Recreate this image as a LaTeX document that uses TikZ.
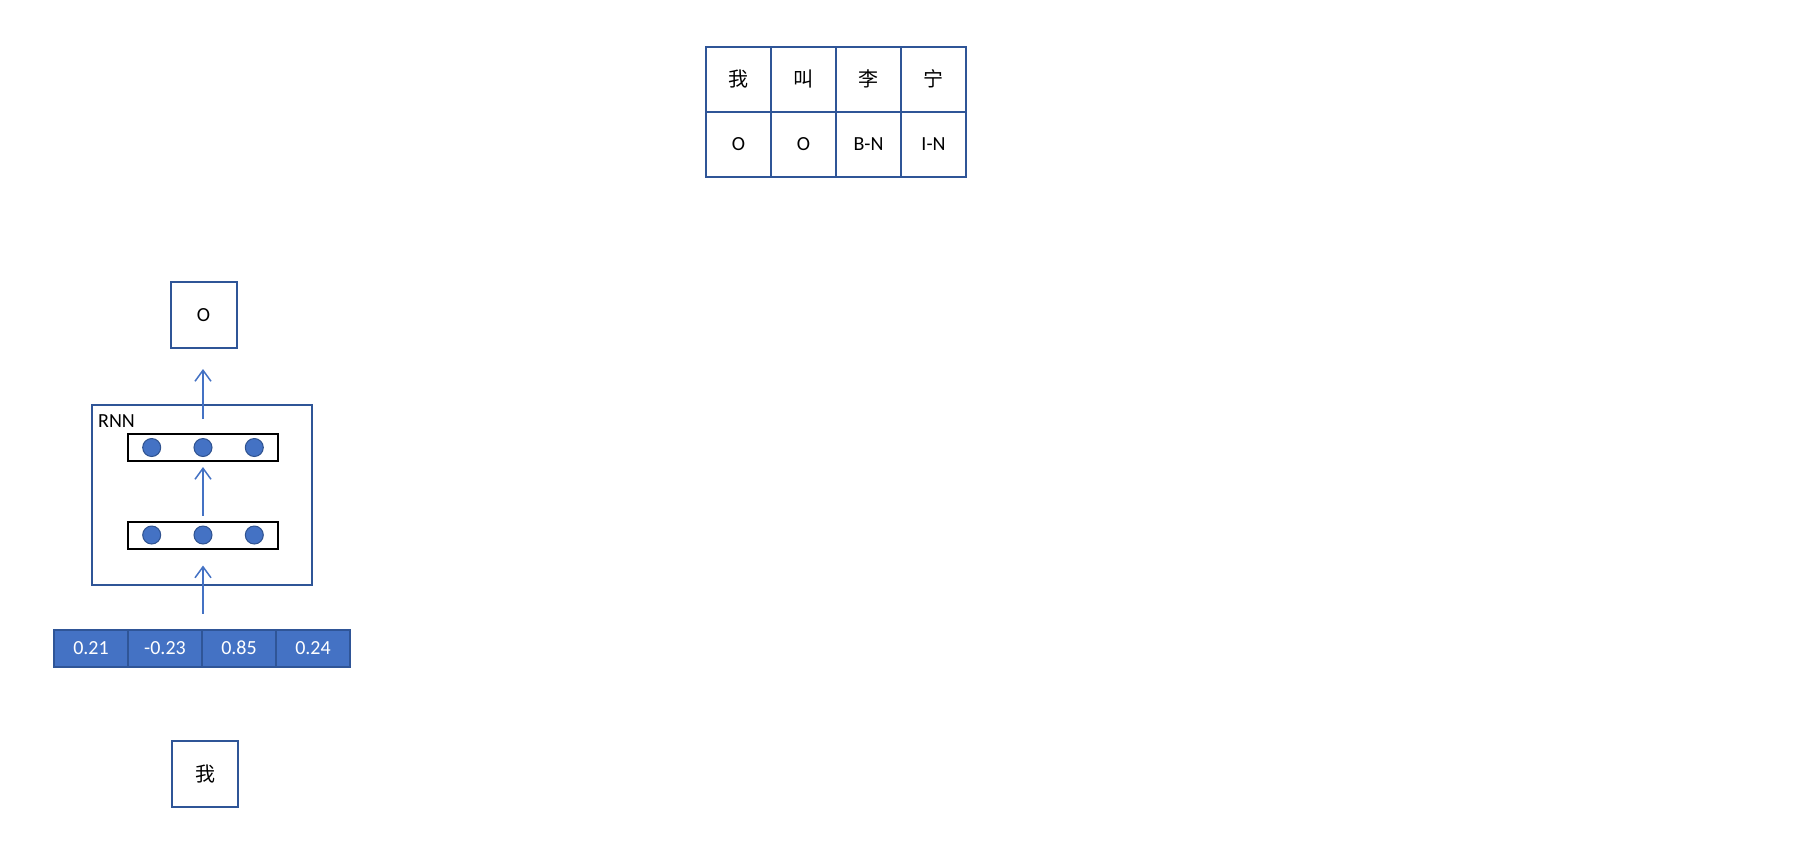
\documentclass[tikz,border=0pt]{standalone}
\usepackage{fontspec}
\setmainfont{Carlito}
\newfontfamily\cjk{Noto Sans CJK SC}
\usetikzlibrary{arrows.meta,positioning}
\definecolor{boxBlue}{HTML}{2F5597}
\definecolor{fillBlue}{HTML}{4472C4}
\definecolor{rimBlue}{HTML}{2F528F}
\begin{document}
\begin{tikzpicture}
[x=1pt,y=-1pt,font=\fontsize{20}{23}\selectfont,
  arrowDecorate/.style={-{Straight Barb[length=11pt,width=16pt]},draw=fillBlue,line width=1.5pt},%
  boxDecorate/.style={draw=boxBlue,line width=2pt,minimum size=66pt,inner sep=0pt},%
  cellDecorate/.style={draw=boxBlue,line width=2pt,minimum size=65pt,inner sep=0pt},%
  vecDecorate/.style={draw=boxBlue,fill=fillBlue,text=white,line width=2pt,minimum width=74pt,minimum height=37pt,inner sep=0pt},%
  rowDecorate/.style={draw=black,line width=2pt,minimum width=150pt,minimum height=27pt,inner sep=0pt},%
  unitDecorate/.style={shape=circle,draw=rimBlue,fill=fillBlue,line width=1pt,minimum size=18pt,inner sep=0pt}]
\useasboundingbox (0,0) rectangle (1806,855);
%% tag table
\foreach \word/\tag [count=\i from 0] in {我/O, 叫/O, 李/B-N, 宁/I-N}
{
  \node (word\i) at (738.5+65*\i,79) [cellDecorate] {\cjk\word};
  \node (tag\i) at (738.5+65*\i,144) [cellDecorate] {\tag};
}
%% input and output
\node (outTag) at (203.5,315) [boxDecorate] {O};
\node (inChar) at (205,774) [boxDecorate] {\cjk 我};
\foreach \val [count=\i] in {0.21, -0.23, 0.85, 0.24}
{
  \node (vec\i) at (17+74*\i,648) [vecDecorate] {\val};
}
%% rnn block
\node (rnn) at (202,495) [draw=boxBlue,line width=2pt,minimum width=220pt,minimum height=180pt] {};
\node [anchor=north west,inner sep=0pt] at (98,414) {RNN};
\node (upRow) at (203,447.5) [rowDecorate] {};
\node (lowRow) at (203,535) [rowDecorate] {};
\foreach \row in {upRow, lowRow}
{
  \foreach \dx in {-51.3, 0, 51.3}
    \node [unitDecorate] at ([xshift=\dx pt]\row.center) {};
}
%% edges or lines
\draw [arrowDecorate,shorten <=15pt,shorten >=16pt] (vec2.north east) -- (lowRow.south);
\draw [arrowDecorate,shorten <=5pt,shorten >=5pt] (lowRow.north) -- (upRow.south);
\draw [arrowDecorate,shorten <=14pt,shorten >=20pt] (upRow.north) -- (outTag.south -| upRow.north);
\end{tikzpicture}
\end{document}
